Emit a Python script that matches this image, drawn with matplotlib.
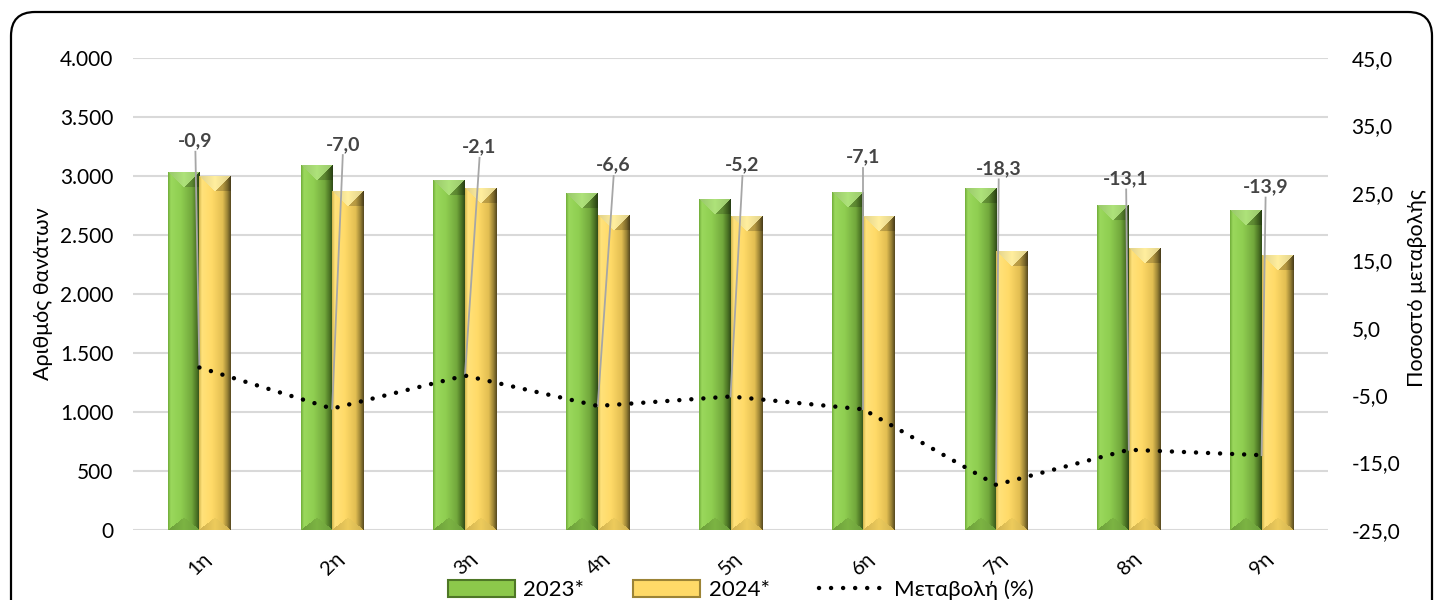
import numpy as np
import matplotlib
matplotlib.use("Agg")
import matplotlib.pyplot as plt
import matplotlib.patches as mpatches
from matplotlib.colors import to_rgb
from matplotlib.lines import Line2D
from matplotlib.ticker import FuncFormatter, FixedLocator
from matplotlib.transforms import IdentityTransform

# ---------- DONNÉES ----------
CATEGORIES = ["1η", "2η", "3η", "4η", "5η", "6η", "7η", "8η", "9η"]
DEATHS_2023 = [3027, 3087, 2960, 2850, 2799, 2858, 2892, 2748, 2706]
DEATHS_2024 = [3000, 2871, 2898, 2662, 2653, 2655, 2363, 2388, 2330]
CHANGE_PCT = [-0.9, -7.0, -2.1, -6.6, -5.2, -7.1, -18.3, -13.1, -13.9]
SERIES_NAMES = ["2023*", "2024*", "Μεταβολή (%)"]
Y_LABEL_LEFT = "Αριθμός θανάτων"
Y_LABEL_RIGHT = "Ποσοστό μεταβολής"

# positions des étiquettes (axe droit) et décalage horizontal (unités catégorie)
LABEL_Y = [32.7, 32.2, 31.8, 29.1, 29.1, 30.3, 28.6, 27.1, 25.9]
LABEL_DX = [-0.03, 0.08, 0.11, 0.12, 0.09, 0.0, 0.02, -0.02, 0.03]
# ----------------------------

W, H, DPI = 1435, 600, 100
FONT = ["Lato", "DejaVu Sans"]
plt.rcParams["font.family"] = FONT

GREEN = {"stops": [0, 0.08, 0.4, 0.75, 0.9, 1.0],
         "cols": ["#76B23E", "#9AD85C", "#8FCE51", "#72A83C", "#4E7726", "#33501A"],
         "top": "#AEE27A", "bottom": "#7CB443"}
YELLOW = {"stops": [0, 0.08, 0.4, 0.75, 0.9, 1.0],
          "cols": ["#D9BC55", "#FFE27A", "#FFDA68", "#E2BE52", "#9C8436", "#5E4F22"],
          "top": "#FFEE9E", "bottom": "#EDCB5C"}


def bar_image(h_px, style, nx=32, bevel=15):
    """Image RGB d'une barre avec effet biseau (style Excel)."""
    ny = max(int(round(h_px)), 2)
    t = np.linspace(0, 1, nx)
    cols = np.array([to_rgb(c) for c in style["cols"]])
    prof = np.stack([np.interp(t, style["stops"], cols[:, k]) for k in range(3)], axis=1)
    img = np.tile(prof[None, :, :], (ny, 1, 1))
    depth = bevel * np.minimum(t, 1 - t) * 2
    rows = np.arange(ny)[:, None]
    top_mask = rows < depth[None, :]
    bot_mask = (ny - 1 - rows) < depth[None, :] * 0.8
    top_c = np.array(to_rgb(style["top"]))
    bot_c = np.array(to_rgb(style["bottom"]))
    shade = 0.88 + 0.12 * (1 - np.abs(t - 0.5) * 2)
    full = np.ones((ny, nx, 1))
    img[top_mask] = (top_c[None, None, :] * full * shade[None, :, None])[top_mask]
    img[bot_mask] = (bot_c[None, None, :] * full * shade[None, :, None])[bot_mask]
    # coin supérieur droit plus sombre
    corner = (rows < bevel) & ~top_mask & (t[None, :] > 0.5)
    img[corner] *= 0.8
    return np.clip(img, 0, 1)


fig = plt.figure(figsize=(W / DPI, H / DPI), dpi=DPI)
ax = fig.add_axes([133 / W, (H - 530) / H, (1328 - 133) / W, (530 - 58) / H])
ax2 = ax.twinx()

x = np.arange(len(CATEGORIES))
bw = 0.237
ymax = 4000
px_per_unit = (530 - 58) / ymax

for xi, v1, v2 in zip(x, DEATHS_2023, DEATHS_2024):
    for x0, val, style in ((xi - bw, v1, GREEN), (xi, v2, YELLOW)):
        ax.imshow(bar_image(val * px_per_unit, style), extent=(x0, x0 + bw, 0, val),
                  aspect="auto", interpolation="bilinear", zorder=2)

ax.set_xlim(-0.5, len(CATEGORIES) - 0.5)
ax.set_ylim(0, ymax)
ax.yaxis.set_major_locator(FixedLocator(np.arange(0, 4001, 500)))
ax.yaxis.set_major_formatter(FuncFormatter(lambda v, p: f"{int(v):,}".replace(",", ".")))
ax.grid(axis="y", color="#D9D9D9", lw=1.5, zorder=0)
ax.set_axisbelow(True)
for s in ax.spines.values():
    s.set_visible(False)
for s in ax2.spines.values():
    s.set_visible(False)
ax.tick_params(axis="y", length=0, pad=14, labelsize=15)
ax.set_xticks(x)
ax.set_xticklabels(CATEGORIES, rotation=45, ha="center", va="top", fontsize=14.5)
ax.tick_params(axis="x", length=0, pad=14)

ax2.set_ylim(-25, 45)
ax2.yaxis.set_major_locator(FixedLocator(np.arange(-25, 46, 10)))
ax2.yaxis.set_major_formatter(FuncFormatter(lambda v, p: f"{v:.1f}".replace(".", ",")))
ax2.tick_params(axis="y", length=0, pad=17, labelsize=15)

fig.text(43 / W, 1 - 294 / H, Y_LABEL_LEFT, rotation=90, ha="center", va="center", fontsize=15.5)
fig.text(1417 / W, 1 - 288 / H, Y_LABEL_RIGHT, rotation=90, ha="center", va="center", fontsize=15.5)

ax2.plot(x, CHANGE_PCT, color="black", lw=3.2, linestyle=(0, (0.01, 2.7)),
         dash_capstyle="round", zorder=4)

for xi, val, ly, dx in zip(x, CHANGE_PCT, LABEL_Y, LABEL_DX):
    ax2.plot([xi + dx, xi], [ly - 1.6, val], color="#A6A6A6", lw=1.3, zorder=3)
    ax2.text(xi + dx, ly, f"{val:.1f}".replace(".", ","), ha="center", va="center",
             fontsize=14, fontweight="bold", color="#444444", zorder=5)

handles = [
    mpatches.Rectangle((0, 0), 1, 1, facecolor="#8CC84B", edgecolor="#4E7726", lw=1.5),
    mpatches.Rectangle((0, 0), 1, 1, facecolor="#FFDA68", edgecolor="#9C8436", lw=1.5),
    Line2D([0], [0], color="black", lw=3.2, linestyle=(0, (0.01, 2.7)), dash_capstyle="round"),
]
fig.legend(handles, SERIES_NAMES, loc="center", bbox_to_anchor=(741 / W, 10 / H),
           ncol=3, frameon=False, fontsize=16, handlelength=3.0, handleheight=0.8,
           columnspacing=2.2, handletextpad=0.4)

border = mpatches.FancyBboxPatch((11, -40), 1421, H - 12 + 40, boxstyle="round,pad=0,rounding_size=24",
                                 transform=IdentityTransform(), facecolor="none",
                                 edgecolor="black", lw=1.6)
fig.patches.append(border)

fig.savefig("out.png", dpi=DPI)
